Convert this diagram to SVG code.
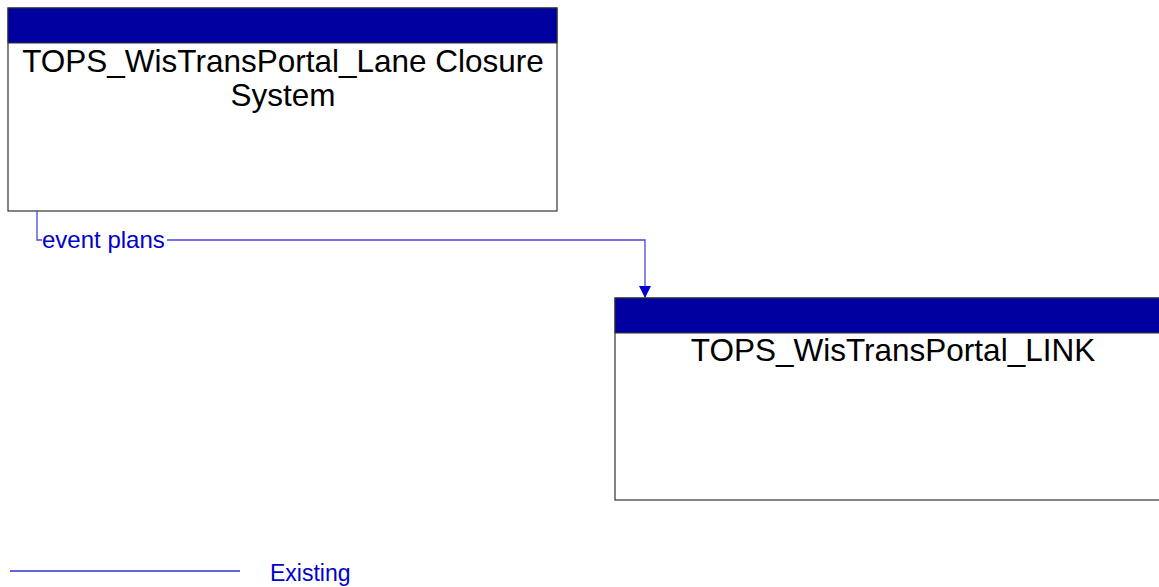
<svg xmlns="http://www.w3.org/2000/svg" width="1159" height="587" viewBox="0 0 1159 587">
<style>
.box{fill:#fff;stroke:#333;stroke-width:1.2}
.hdr{fill:#0000A0;stroke:#333;stroke-width:1}
.name{font-family:"Liberation Sans",Arial,sans-serif;font-size:31.5px;fill:#000;text-anchor:middle}
.flow{fill:none;stroke:#4848D8;stroke-width:1.3}
.lbl{font-family:"Liberation Sans",Arial,sans-serif;font-size:24px;fill:#0000CC}
</style>
<defs>
<marker id="arr" markerWidth="12" markerHeight="12" refX="11" refY="6" orient="auto" markerUnits="userSpaceOnUse">
<path d="M0,0 L12,6 L0,12 Z" fill="#0000CC"/>
</marker>
</defs>
<g id="node-lcs">
<rect class="box" x="8" y="8" width="549" height="203"/>
<rect class="hdr" x="8" y="8" width="549" height="35"/>
<text class="name" x="283" y="72">TOPS_WisTransPortal_Lane Closure</text>
<text class="name" x="283" y="106">System</text>
</g>
<g id="node-link">
<rect class="box" x="615" y="298" width="560" height="202"/>
<rect class="hdr" x="615" y="298" width="560" height="35"/>
<text class="name" x="893" y="361">TOPS_WisTransPortal_LINK</text>
</g>
<g id="connectors">
<path class="flow" d="M37,211 V240 H42 M167,240 H645 V297" marker-end="url(#arr)"/>
<text class="lbl" x="42" y="248">event plans</text>
</g>
<g id="legend">
<line x1="10" y1="571" x2="240" y2="571" stroke="#3030D0" stroke-width="1.3"/>
<text class="lbl" x="270" y="581" style="font-size:23px">Existing</text>
</g>
</svg>
